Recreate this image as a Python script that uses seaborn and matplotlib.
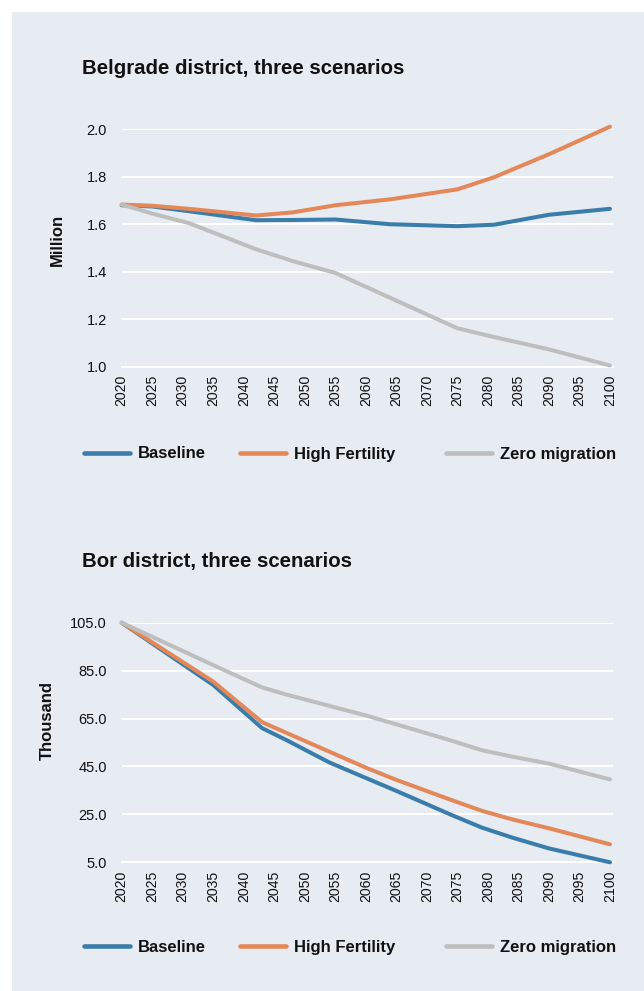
import matplotlib
matplotlib.use("Agg")
import matplotlib.pyplot as plt
import seaborn as sns
import pandas as pd
from matplotlib.patches import Rectangle
from matplotlib.lines import Line2D

# Scenario names and colours
scenarios = ["Baseline", "High Fertility", "Zero migration"]
colors = ["#3A7DAA", "#E4885A", "#BEBEBE"]

# Belgrade district population, million
belgrade_years = [2020, 2025, 2031, 2042, 2048, 2055, 2064, 2075, 2081, 2090, 2100]
belgrade_baseline = [1.680, 1.675, 1.655, 1.617, 1.618, 1.620, 1.600, 1.592, 1.598, 1.640, 1.665]
belgrade_high = [1.683, 1.678, 1.665, 1.637, 1.650, 1.680, 1.705, 1.747, 1.798, 1.895, 2.011]
belgrade_zero = [1.683, 1.645, 1.605, 1.495, 1.445, 1.395, 1.290, 1.162, 1.125, 1.073, 1.005]

# Bor district population, thousand
bor_years = [2020, 2035, 2043, 2047, 2054, 2060, 2065, 2074, 2079, 2084, 2090, 2100]
bor_baseline = [105.0, 79.0, 61.0, 56.0, 46.7, 40.2, 34.8, 24.8, 19.5, 15.3, 10.8, 5.0]
bor_high = [105.0, 80.4, 63.5, 59.0, 51.2, 44.5, 39.4, 31.0, 26.5, 22.9, 19.2, 12.5]
bor_zero = [105.0, 87.3, 78.0, 75.0, 70.3, 66.3, 62.6, 55.8, 51.8, 49.1, 46.2, 39.6]

year_ticks = list(range(2020, 2101, 5))

BG = "#E7EBF2"
TXT = "#111111"

sns.set_style("white")
plt.rcParams["font.family"] = ["Liberation Sans", "DejaVu Sans"]


def long_frame(years, series):
    rows = []
    for name, vals in zip(scenarios, series):
        for y, v in zip(years, vals):
            rows.append({"Year": y, "Value": v, "Scenario": name})
    return pd.DataFrame(rows)


fig = plt.figure(figsize=(6.44, 9.91), dpi=100)
fig.patch.set_facecolor("white")
fig.patches.append(Rectangle((12 / 644, 0), 1 - 12 / 644, 1 - 12 / 991,
                             transform=fig.transFigure, facecolor=BG,
                             edgecolor="none", zorder=-10))

palette = dict(zip(scenarios, colors))


def draw_panel(ax, df, ylim, yticks, fmt, ylabel, ylabel_xy, title, title_y):
    ax.set_facecolor(BG)
    sns.lineplot(data=df, x="Year", y="Value", hue="Scenario", palette=palette,
                 linewidth=2.9, ax=ax, legend=False, solid_capstyle="round",
                 clip_on=False, zorder=3)
    ax.set_xlim(2020, 2100.45)
    ax.set_ylim(*ylim)
    ax.set_yticks(yticks)
    ax.set_yticklabels([fmt.format(v) for v in yticks], fontsize=10.5, color=TXT)
    ax.set_xticks(year_ticks)
    ax.set_xticklabels([str(y) for y in year_ticks], rotation=90, fontsize=10.2, color=TXT)
    ax.grid(axis="y", color="white", linewidth=1.5)
    ax.grid(axis="x", visible=False)
    ax.set_axisbelow(True)
    for s in ["top", "right", "left"]:
        ax.spines[s].set_visible(False)
    ax.spines["bottom"].set_color("white")
    ax.spines["bottom"].set_linewidth(1.5)
    ax.tick_params(axis="x", direction="in", length=3, width=1.2, color="white", pad=6)
    ax.tick_params(axis="y", length=0, pad=10.5)
    ax.set_xlabel("")
    ax.set_ylabel(ylabel, fontsize=12, fontweight="bold", color=TXT)
    ax.yaxis.set_label_coords(*ylabel_xy)
    fig.text(81.5 / 644, title_y, title, fontsize=14.7, fontweight="bold",
             color=TXT, va="baseline", ha="left")


ax1 = fig.add_axes([121.7 / 644, 624.3 / 991, 491 / 644, 237.4 / 991])
draw_panel(ax1, long_frame(belgrade_years, [belgrade_baseline, belgrade_high, belgrade_zero]),
           (1.0, 2.0), [1.0, 1.2, 1.4, 1.6, 1.8, 2.0], "{:.1f}", "Million",
           (-0.1155, 0.534), "Belgrade district, three scenarios", (991 - 73.5) / 991)

ax2 = fig.add_axes([121.7 / 644, 128.7 / 991, 491 / 644, 239.6 / 991])
draw_panel(ax2, long_frame(bor_years, [bor_baseline, bor_high, bor_zero]),
           (5.0, 105.0), [5.0, 25.0, 45.0, 65.0, 85.0, 105.0], "{:.1f}", "Thousand",
           (-0.136, 0.59), "Bor district, three scenarios", (991 - 567) / 991)

# Legends: one entry each, placed along a row below each chart
legend_x = [84 / 644, 240 / 644, 446 / 644]
for ly in [(991 - 454) / 991, (991 - 947.5) / 991]:
    for name, col, lx in zip(scenarios, colors, legend_x):
        h = Line2D([], [], color=col, linewidth=3.3, solid_capstyle="round")
        lg = fig.legend([h], [name], loc="center left", bbox_to_anchor=(lx, ly),
                        frameon=False, borderpad=0, borderaxespad=0,
                        handlelength=2.75, handletextpad=0.5,
                        prop={"size": 12, "weight": "bold"})
        for t in lg.get_texts():
            t.set_color(TXT)

fig.savefig("out.png", dpi=100, facecolor=fig.get_facecolor())
